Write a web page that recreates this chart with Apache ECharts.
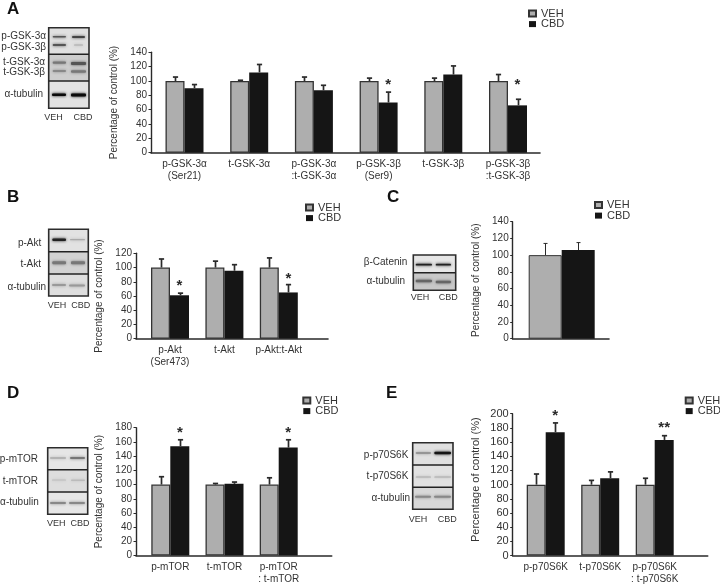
<!DOCTYPE html>
<html><head><meta charset="utf-8">
<style>html,body{margin:0;padding:0;background:#fff}#c{width:720px;height:585px;filter:blur(0.4px)}</style>
<script src="https://cdn.jsdelivr.net/npm/echarts@6/dist/echarts.min.js"></script>
</head><body><div id="c"></div>
<script>
// ---------- data ----------
const catsA = ['p-GSK-3α\n(Ser21)','t-GSK-3α','p-GSK-3α\n:t-GSK-3α','p-GSK-3β\n(Ser9)','t-GSK-3β','p-GSK-3β\n:t-GSK-3β'];
const vehA = [100,100,100,100,100,100];
const cbdA = [90,112,87,70,109,66];
const vehTopA = [105.5,101,105.5,104,104,109];
const cbdTopA = [95,123,94,84.5,121,74.5];
const starTextA = ['','','','*','','*'];
const starYA = [0,0,0,96,0,96];

const catsB = ['p-Akt\n(Ser473)','t-Akt','p-Akt:t-Akt'];
const vehB = [100,100,100];
const cbdB = [61,95.5,65];
const vehTopB = [112,109,113.5];
const cbdTopB = [64,104,76];
const starTextB = ['*','','*'];
const starYB = [75,0,85];

const catsC = [''];
const vehC = [100];
const cbdC = [106];
const vehTopC = [114];
const cbdTopC = [115];
const starTextC = [''];
const starYC = [0];

const catsD = ['p-mTOR','t-mTOR','p-mTOR\n: t-mTOR'];
const vehD = [100,100,100];
const cbdD = [154,101,152];
const vehTopD = [111,101.5,109.5];
const cbdTopD = [163,103.5,163];
const starTextD = ['*','','*'];
const starYD = [174,0,174];

const catsE = ['p-p70S6K','t-p70S6K','p-p70S6K\n: t-p70S6K'];
const vehE = [100,100,100];
const cbdE = [174,109,163];
const vehTopE = [115,106,109];
const cbdTopE = [187,118,169];
const starTextE = ['*','','**'];
const starYE = [198,0,182];

// ---------- layout ----------
const panels = [
 {cats:catsA,veh:vehA,cbd:cbdA,vt:vehTopA,ct:cbdTopA,st:starTextA,sy:starYA,max:140,axisX:151,right:540,top:52.3,bottom:152.7,c0:184.5,period:64.7,bw:19,fs:10,lx:528,ly:7.5},
 {cats:catsB,veh:vehB,cbd:cbdB,vt:vehTopB,ct:cbdTopB,st:starTextB,sy:starYB,max:120,axisX:136,right:328,top:253.3,bottom:338.7,c0:170,period:54.4,bw:19,fs:10,lx:305,ly:201.5},
 {cats:catsC,veh:vehC,cbd:cbdC,vt:vehTopC,ct:cbdTopC,st:starTextC,sy:starYC,max:140,axisX:512.7,right:609,top:221.7,bottom:338.7,c0:561.7,period:100,bw:33,fs:10,lx:594,ly:199,thin:true},
 {cats:catsD,veh:vehD,cbd:cbdD,vt:vehTopD,ct:cbdTopD,st:starTextD,sy:starYD,max:180,axisX:136,right:331.7,top:427.7,bottom:556.3,c0:170.3,period:54.2,bw:19,fs:10,lx:302.3,ly:394.5},
 {cats:catsE,veh:vehE,cbd:cbdE,vt:vehTopE,ct:cbdTopE,st:starTextE,sy:starYE,max:200,axisX:512.7,right:707.7,top:413.7,bottom:556.3,c0:545.7,period:54.5,bw:19,fs:11,lx:684.7,ly:394.5,namePad:[0,0,0,10]}
];
const ink='#2a2a2a', txt='#333', font='"Liberation Sans", Arial, sans-serif';

const letters = [['A',7,6.5],['B',7,195],['C',387,195],['D',7,391],['E',386,391]];

// western-blot insets: image-like decoration, not chart data
const blots = [
 {x:48.7,y:27.7,w:40.3,h:80.6,div:[54.3,81],bg:['#e0e0e0','#cdcdcd','#e2e2e2'],
  labels:[['p-GSK-3α',46,36.7],['p-GSK-3β',46,47],['t-GSK-3α',45,62],['t-GSK-3β',45,72],['α-tubulin',43,94]],veh:[53.5,118],cbd:[83,118],
  bands:[[52.7,66,36.7,1.6,'#555'],[72,85,37,1.8,'#444'],[52.7,66,45,1.8,'#555'],[74,83,45,1,'#aaa'],[52.7,66,62.7,2.2,'#777'],[71,86,63.5,2.8,'#555'],[52.7,66,71,2,'#888'],[71,86,71.5,2.6,'#777'],[52,66,94.7,2.6,'#0a0a0a'],[71,86,95,3,'#0a0a0a']]},
 {x:48.7,y:229.3,w:39.6,h:66.7,div:[251.7,274],bg:['#e2e2e2','#d2d2d2','#dedede'],
  labels:[['p-Akt',41.3,243.7],['t-Akt',41,264.3],['α-tubulin',46,287.3]],veh:[57,305.7],cbd:[80.7,305.7],
  bands:[[52.3,66,239.7,2.4,'#222'],[70,85,239.7,1.2,'#aaa'],[52.3,66,262.7,3,'#777'],[71,85,262.7,3,'#777'],[52,66,285,2,'#999'],[69,85,285.5,2,'#999']]},
 {x:413.3,y:255,w:42.4,h:35.3,div:[272.7],bg:['#e6e6e6','#c8c8c8'],
  labels:[['β-Catenin',407.3,262],['α-tubulin',405,281]],veh:[420,297.7],cbd:[448.3,297.7],
  bands:[[415.7,432,264.7,1.8,'#222'],[435.7,451,264.7,1.8,'#222'],[415.7,432,281,2.6,'#666'],[435.7,451,282,2.6,'#666']]},
 {x:47.7,y:447.7,w:40,h:66.6,div:[469.7,492],bg:['#e6e6e6','#dddddd','#e6e6e6'],
  labels:[['p-mTOR',38,459],['t-mTOR',38,481.3],['α-tubulin',38.7,502.7]],veh:[56.3,523.3],cbd:[80,523.3],
  bands:[[50,66,458,1.4,'#aaa'],[70,85,458,2,'#777'],[52,66,480,1.2,'#bbb'],[71,85,480.3,1.4,'#bbb'],[50,66,503,2.2,'#888'],[69,85,503,2.2,'#888']]},
 {x:412.7,y:442.7,w:40.3,h:66.6,div:[465,487.3],bg:['#e0e0e0','#e2e2e2','#d8d8d8'],
  labels:[['p-p70S6K',408.3,455.7],['t-p70S6K',408.3,476],['α-tubulin',410,498.3]],veh:[418,519.3],cbd:[447.3,519.3],
  bands:[[415.7,431,453,1.6,'#888'],[434.3,451,453,2.4,'#151515'],[415.7,431,477,1.2,'#aaa'],[434.3,451,477,1.2,'#aaa'],[415,431,496.7,2,'#888'],[434,451,496.7,2,'#888']]}
];

// ---------- options ----------
const grid=[],xAxis=[],yAxis=[],series=[],legend=[],graphic=[];

function errorSeries(i,vals,tops,sign,p){
  return {type:'custom',xAxisIndex:i,yAxisIndex:i,z:3,silent:true,
    data:vals.map((v,k)=>[k,v,tops[k]]),encode:{x:0,y:[1,2]},
    renderItem:(params,api)=>{
      const base=api.coord([api.value(0),api.value(1)]);
      const top=api.coord([api.value(0),api.value(2)]);
      const x=Math.round(base[0]+sign*p.bw/2)+0.5;
      const lw=p.thin?1:1.7, cap=p.thin?2:2.6;
      const st={stroke:ink,lineWidth:lw};
      return {type:'group',children:[
        {type:'line',shape:{x1:x,y1:base[1],x2:x,y2:top[1]},style:st},
        {type:'line',shape:{x1:x-cap,y1:top[1],x2:x+cap,y2:top[1]},style:st}
      ]};
    }};
}
function starSeries(i,p){
  return {type:'custom',xAxisIndex:i,yAxisIndex:i,z:4,silent:true,
    data:p.st.map((s,k)=>[k,p.sy[k],s]),encode:{x:0,y:1},
    renderItem:(params,api)=>{
      const s=p.st[params.dataIndex];
      if(!s) return null;
      const c=api.coord([api.value(0),api.value(1)]);
      return {type:'text',style:{text:s,x:c[0]+p.bw/2,y:c[1]+1,fill:ink,font:'bold 15px '+font,textAlign:'center',textVerticalAlign:'middle'}};
    }};
}

panels.forEach((p,i)=>{
  grid.push({left:p.axisX,top:p.top,width:p.right-p.axisX,height:p.bottom-p.top,containLabel:false});
  xAxis.push({type:'value',gridIndex:i,
    min:(p.axisX-p.c0)/p.period,max:(p.right-p.c0)/p.period,
    splitLine:{show:false},axisTick:{show:false},
    axisLine:{show:true,onZero:false,lineStyle:{color:ink,width:1.6}},
    axisLabel:{show:true,customValues:p.cats.map((c,k)=>k),formatter:v=>p.cats[v]||'',margin:6,
      color:txt,fontFamily:font,fontSize:10,lineHeight:11.7,hideOverlap:false}});
  yAxis.push({type:'value',gridIndex:i,min:0,max:p.max,interval:20,
    splitLine:{show:false},
    axisLine:{show:true,onZero:false,lineStyle:{color:ink,width:1.4}},
    axisTick:{show:true,length:2.5,lineStyle:{color:ink,width:1}},
    axisLabel:{margin:4,color:txt,fontFamily:font,fontSize:p.fs},
    name:'Percentage of control (%)',nameLocation:'middle',nameRotate:90,nameGap:31.5,
    nameTextStyle:{color:txt,fontFamily:font,fontSize:p.fs,padding:p.namePad||0}});
  series.push({type:'bar',name:'VEH',xAxisIndex:i,yAxisIndex:i,barWidth:p.bw,barGap:0,z:2,
    data:p.veh.map((v,k)=>[k,v]),itemStyle:{color:'#aeaeae',borderColor:'#333',borderWidth:p.thin?1:1.3}});
  series.push({type:'bar',name:'CBD',xAxisIndex:i,yAxisIndex:i,barWidth:p.bw,barGap:0,z:2,
    data:p.cbd.map((v,k)=>[k,v]),itemStyle:{color:'#151515'}});
  series.push(errorSeries(i,p.veh,p.vt,-1,p));
  series.push(errorSeries(i,p.cbd,p.ct,1,p));
  series.push(starSeries(i,p));
  legend.push({left:p.lx,top:p.ly,orient:'vertical',padding:0,icon:'rect',itemWidth:7,itemHeight:6,itemGap:-1.4,selectedMode:false,
    data:['VEH','CBD'],textStyle:{color:txt,fontFamily:font,fontSize:11,lineHeight:12}});
});

letters.forEach(l=>graphic.push({type:'text',left:l[1],top:l[2]-6,style:{text:l[0],fill:'#111',font:'bold 17px '+font}}));

blots.forEach(b=>{
  const ys=[b.y].concat(b.div,[b.y+b.h]);
  b.bg.forEach((c,k)=>graphic.push({type:'rect',shape:{x:b.x,y:ys[k],width:b.w,height:ys[k+1]-ys[k]},style:{fill:c},z:1}));
  b.bands.forEach(d=>graphic.push({type:'rect',shape:{x:d[0],y:d[2]-d[3]/2,width:d[1]-d[0],height:d[3],r:1},
    style:{fill:d[4],shadowBlur:3,shadowColor:d[4]},z:2}));
  graphic.push({type:'rect',shape:{x:b.x,y:b.y,width:b.w,height:b.h},style:{fill:'none',stroke:'#2c2c2c',lineWidth:1.6},z:3});
  b.div.forEach(y=>graphic.push({type:'line',shape:{x1:b.x,y1:y,x2:b.x+b.w,y2:y},style:{stroke:'#222',lineWidth:1.6},z:3}));
  b.labels.forEach(l=>graphic.push({type:'text',x:l[1],y:l[2],style:{text:l[0],fill:txt,font:'10px '+font,textAlign:'right',textVerticalAlign:'middle'},z:3}));
  [['VEH',b.veh],['CBD',b.cbd]].forEach(t=>graphic.push({type:'text',x:t[1][0],y:t[1][1],style:{text:t[0],fill:txt,font:'9px '+font,textAlign:'center',textVerticalAlign:'middle'},z:3}));
});

const chart=echarts.init(document.getElementById('c'),null,{renderer:'canvas'});
chart.setOption({animation:false,backgroundColor:'#fff',tooltip:{show:false},grid,xAxis,yAxis,series,legend,graphic:{elements:graphic}});
</script></body></html>
